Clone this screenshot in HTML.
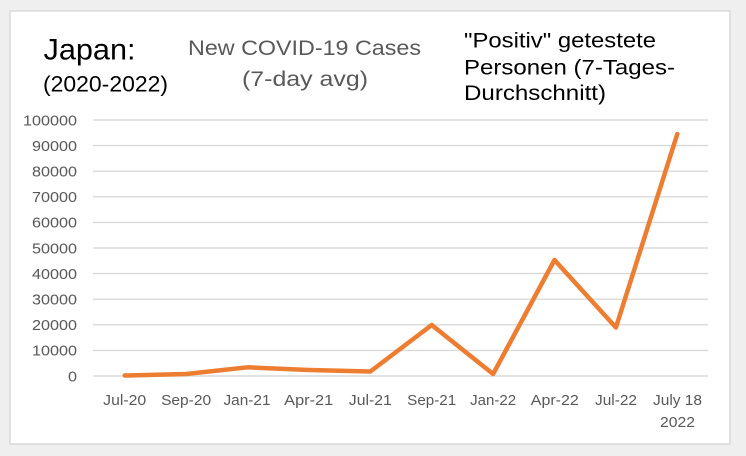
<!DOCTYPE html>
<html>
<head>
<meta charset="utf-8">
<style>
  html,body{margin:0;padding:0;background:#efefef;}
  body{width:746px;height:456px;overflow:hidden;}
  svg{display:block;}
  .ax{font-family:"Liberation Sans",Arial,sans-serif;font-size:15px;fill:#595959;}
</style>
</head>
<body>
<svg width="746" height="456" viewBox="0 0 746 456" xmlns="http://www.w3.org/2000/svg">
  <rect x="0" y="0" width="746" height="456" fill="#efefef"/>
  <rect x="10" y="11" width="720" height="433" fill="#ffffff" stroke="#d9d9d9" stroke-width="1.5"/>

  <!-- gridlines -->
  <g stroke="#d9d9d9" stroke-width="1.4">
    <line x1="93" x2="708" y1="120" y2="120"/>
    <line x1="93" x2="708" y1="145.6" y2="145.6"/>
    <line x1="93" x2="708" y1="171.2" y2="171.2"/>
    <line x1="93" x2="708" y1="196.8" y2="196.8"/>
    <line x1="93" x2="708" y1="222.4" y2="222.4"/>
    <line x1="93" x2="708" y1="248" y2="248"/>
    <line x1="93" x2="708" y1="273.6" y2="273.6"/>
    <line x1="93" x2="708" y1="299.2" y2="299.2"/>
    <line x1="93" x2="708" y1="324.8" y2="324.8"/>
    <line x1="93" x2="708" y1="350.4" y2="350.4"/>
    <line x1="93" x2="708" y1="376" y2="376"/>
  </g>

  <!-- y labels -->
  <g class="ax" text-anchor="end">
    <text x="77" y="125.3" textLength="54" lengthAdjust="spacingAndGlyphs">100000</text>
    <text x="77" y="150.9" textLength="45" lengthAdjust="spacingAndGlyphs">90000</text>
    <text x="77" y="176.5" textLength="45" lengthAdjust="spacingAndGlyphs">80000</text>
    <text x="77" y="202.1" textLength="45" lengthAdjust="spacingAndGlyphs">70000</text>
    <text x="77" y="227.7" textLength="45" lengthAdjust="spacingAndGlyphs">60000</text>
    <text x="77" y="253.3" textLength="45" lengthAdjust="spacingAndGlyphs">50000</text>
    <text x="77" y="278.9" textLength="45" lengthAdjust="spacingAndGlyphs">40000</text>
    <text x="77" y="304.5" textLength="45" lengthAdjust="spacingAndGlyphs">30000</text>
    <text x="77" y="330.1" textLength="45" lengthAdjust="spacingAndGlyphs">20000</text>
    <text x="77" y="355.7" textLength="45" lengthAdjust="spacingAndGlyphs">10000</text>
    <text x="77" y="381.3" textLength="9" lengthAdjust="spacingAndGlyphs">0</text>
  </g>

  <!-- x labels -->
  <g class="ax" text-anchor="middle">
    <text x="124.7" y="405" textLength="43" lengthAdjust="spacingAndGlyphs">Jul-20</text>
    <text x="186.1" y="405" textLength="50" lengthAdjust="spacingAndGlyphs">Sep-20</text>
    <text x="247" y="405" textLength="47" lengthAdjust="spacingAndGlyphs">Jan-21</text>
    <text x="308.7" y="405" textLength="49" lengthAdjust="spacingAndGlyphs">Apr-21</text>
    <text x="370.3" y="405" textLength="43" lengthAdjust="spacingAndGlyphs">Jul-21</text>
    <text x="431.7" y="405" textLength="49" lengthAdjust="spacingAndGlyphs">Sep-21</text>
    <text x="493.1" y="405" textLength="46" lengthAdjust="spacingAndGlyphs">Jan-22</text>
    <text x="554.8" y="405" textLength="48" lengthAdjust="spacingAndGlyphs">Apr-22</text>
    <text x="616" y="405" textLength="42" lengthAdjust="spacingAndGlyphs">Jul-22</text>
    <text x="677.5" y="405" textLength="49" lengthAdjust="spacingAndGlyphs">July 18</text>
    <text x="677.5" y="427" textLength="35" lengthAdjust="spacingAndGlyphs">2022</text>
  </g>

  <!-- series -->
  <polyline fill="none" stroke="#ED7D31" stroke-width="4.5" stroke-linejoin="round" stroke-linecap="round"
    points="124.7,375.5 186.1,374 247.5,367.3 308.9,370 370.3,371.5 431.7,325 493.1,374 554.5,260 615.9,327.5 677.3,134"/>

  <!-- titles -->
  <text x="43.5" y="59.5" font-family="'Liberation Sans',Arial,sans-serif" font-size="30" fill="#000" textLength="92" lengthAdjust="spacingAndGlyphs">Japan:</text>
  <text x="43" y="91.5" font-family="'Liberation Sans',Arial,sans-serif" font-size="22" fill="#000" textLength="125" lengthAdjust="spacingAndGlyphs">(2020-2022)</text>

  <text x="188" y="55" font-family="'Liberation Sans',Arial,sans-serif" font-size="21" fill="#595959" textLength="233" lengthAdjust="spacingAndGlyphs">New COVID-19 Cases</text>
  <text x="242" y="86" font-family="'Liberation Sans',Arial,sans-serif" font-size="21" fill="#595959" textLength="126" lengthAdjust="spacingAndGlyphs">(7-day avg)</text>

  <g font-family="'Liberation Sans',Arial,sans-serif" font-size="21.5" fill="#000">
    <text x="464" y="47.5" textLength="192" lengthAdjust="spacingAndGlyphs">"Positiv" getestete</text>
    <text x="464" y="74.5" textLength="211" lengthAdjust="spacingAndGlyphs">Personen (7-Tages-</text>
    <text x="464" y="100" textLength="142" lengthAdjust="spacingAndGlyphs">Durchschnitt)</text>
  </g>
</svg>
</body>
</html>
